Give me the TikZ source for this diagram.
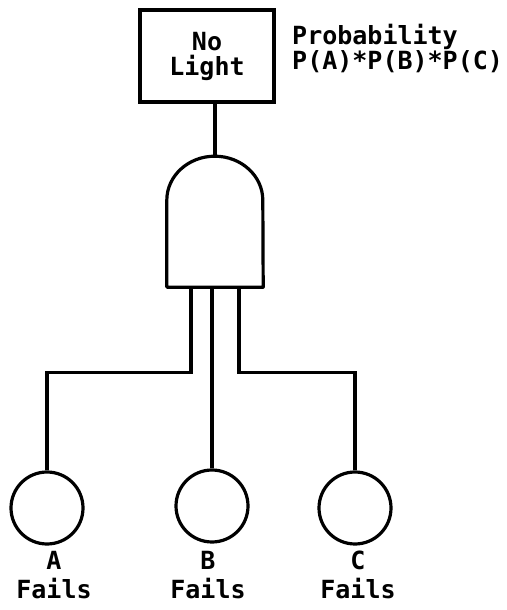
\documentclass[tikz,border=0pt]{standalone}
\usepackage{fontspec}
\newfontfamily\treefont{DejaVu Sans Mono}
\usetikzlibrary{positioning, shapes}
\tikzset{
        x=1pt, y=1pt, % one unit per pixel of the sketch
        every node/.style={font=\treefont\bfseries\fontsize{25}{25}\selectfont}, % typewriter labels
        event/.style={draw, line width=3.2pt, minimum width=134pt, minimum height=92pt, inner sep=0pt, align=center}, % top event box
        basic/.style={draw, circle, line width=3.2pt, minimum size=72pt, inner sep=0pt}, % basic events
        gatebox/.style={minimum width=96pt, minimum height=131pt, inner sep=0pt}, % room for the and gate
        wire/.style={line width=3.2pt}, % connecting lines
        fails/.style={align=center, inner sep=0pt, font=\treefont\bfseries\fontsize{25}{29}\selectfont}, % names under circles
    }

\begin{document}
\begin{tikzpicture}
    \useasboundingbox (0,0) rectangle (506,610);
    \node[event] (top) at (207,554) {No\\Light};
    \node[anchor=north west, align=left, inner sep=0pt, font=\treefont\bfseries\fontsize{25}{19}\selectfont] (prob) at (292,586) {Probability\\P(A)*P(B)*P(C)};
    \node[gatebox] (gate) at (215,388.5) {};
    \draw[wire, line join=round] (gate.south west) -- ++(0,87) arc[start angle=180, end angle=0, x radius=48, y radius=44] -- (gate.south east) -- cycle;
    \coordinate (inA) at ([xshift=-24pt]gate.south);
    \coordinate (inB) at ([xshift=-3pt]gate.south);
    \coordinate (inC) at ([xshift=24pt]gate.south);
    \node[basic] (A) at (47,102) {};
    \node[basic] (B) at (212,104) {};
    \node[basic] (C) at (355,102) {};
    \node[fails, below=5pt of A, xshift=7pt] (fa) {A\\Fails};
    \node[fails, below=7pt of B, xshift=-4pt] (fb) {B\\Fails};
    \node[fails, below=5pt of C, xshift=3pt] (fc) {C\\Fails};
    \draw[wire] (top.south -| gate.north) -- (gate.north);
    \draw[wire] (inA) -- ++(0,-85) -| (A);
    \draw[wire] (inB) -- (B);
    \draw[wire] (inC) -- ++(0,-85) -| (C);
  \end{tikzpicture}
\end{document}
